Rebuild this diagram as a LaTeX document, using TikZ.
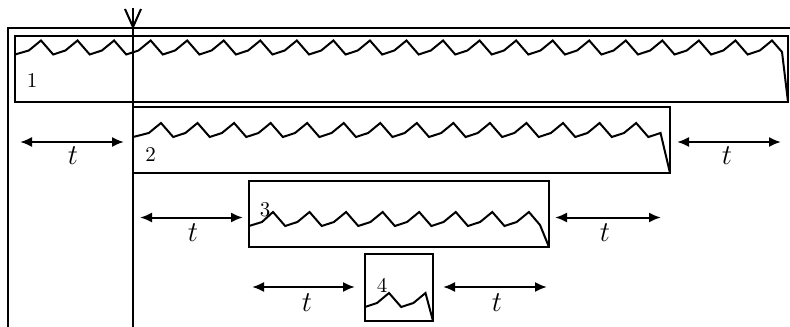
\documentclass[tikz,border=0pt]{standalone}
\usetikzlibrary{arrows.meta}
\begin{document}
\begin{tikzpicture}[x=0.5pt,y=-0.5pt,
  every path/.style={line width=1pt, line join=miter},
  frame/.style={line width=1pt},
  boxline/.style={line width=1pt},
  saw/.style={line width=1pt, line join=miter},
  dimarrow/.style={line width=1pt, {Latex[length=6pt,width=5pt]}-{Latex[length=6pt,width=5pt]}},
  lab/.style={font=\fontsize{10.5}{12}\selectfont, inner sep=0pt},
  tlab/.style={font=\fontsize{14.4}{16}\selectfont, inner sep=0pt}]
\useasboundingbox (0,0) rectangle (790,326);
% outer frame
\coordinate (fbl) at (8,328);
\coordinate (ftl) at (8,28);
\coordinate (ftr) at (792,28);
\draw[frame] (fbl) -- (ftl) -- (ftr);
% vertical axis with V mark
\coordinate (vtop) at (133,8);
\coordinate (vbot) at (133,328);
\coordinate (vl) at (125,9);
\coordinate (vapex) at (133,27);
\coordinate (vr) at (141,9);
\draw[frame] (vtop) -- (vbot);
\draw[frame] (vl) -- (vapex) -- (vr);
% boxes
\coordinate (b1a) at (15,36);  \coordinate (b1b) at (788,102);
\coordinate (b2a) at (133,107); \coordinate (b2b) at (670,173);
\coordinate (b3a) at (249,181); \coordinate (b3b) at (549,247);
\coordinate (b4a) at (365,254); \coordinate (b4b) at (433,321);
\draw[boxline] (b1a) rectangle (b1b);
\draw[boxline] (b2a) rectangle (b2b);
\draw[boxline] (b3a) rectangle (b3b);
\draw[boxline] (b4a) rectangle (b4b);
% saw profiles
\draw[saw] (15,54.5) -- (28.8,50.5)
  foreach \k in {0,...,19} { -- ({41+\k*36.55},40.5) -- ({53.18+\k*36.55},54.5) -- ({65.37+\k*36.55},50.5) }
  -- (772,40.5) -- (782,52) -- (b1b);
\draw[saw] (133,137) -- (148.8,133)
  foreach \k in {0,...,13} { -- ({161+\k*36.55},123) -- ({173.18+\k*36.55},137) -- ({185.37+\k*36.55},133) }
  -- (b2b);
\draw[saw] (249,226) -- (262,222)
  foreach \k in {0,...,6} { -- ({273+\k*36.55},212) -- ({285.18+\k*36.55},226) -- ({297.37+\k*36.55},222) }
  -- (528.9,212) -- (540,225) -- (b3b);
\draw[saw] (365,307) -- (377,303) -- (389,293) -- (401.2,307) -- (413.4,303) -- (425.5,293) -- (b4b);
% labels
\node[lab] (n1) at (32,80.5) {1};
\node[lab] (n2) at (150.5,154.5) {2};
\node[lab] (n3) at (265,210) {3};
\node[lab] (n4) at (382,285) {4};
% dimension arrows
\coordinate (a1l) at (20,142);  \coordinate (a1r) at (124,142);
\coordinate (a2l) at (677,142); \coordinate (a2r) at (781,142);
\coordinate (a3l) at (140,217.5); \coordinate (a3r) at (243,217.5);
\coordinate (a4l) at (555,217.5); \coordinate (a4r) at (661,217.5);
\coordinate (a5l) at (252,287); \coordinate (a5r) at (355,287);
\coordinate (a6l) at (443,287); \coordinate (a6r) at (547,287);
\draw[dimarrow] (a1l) -- (a1r);
\draw[dimarrow] (a2l) -- (a2r);
\draw[dimarrow] (a3l) -- (a3r);
\draw[dimarrow] (a4l) -- (a4r);
\draw[dimarrow] (a5l) -- (a5r);
\draw[dimarrow] (a6l) -- (a6r);
\node[tlab] (t1) at (73,156) {$t$};
\node[tlab] (t2) at (727,156) {$t$};
\node[tlab] (t3) at (193,233) {$t$};
\node[tlab] (t4) at (605,233) {$t$};
\node[tlab] (t5) at (307,303) {$t$};
\node[tlab] (t6) at (497,303) {$t$};
\end{tikzpicture}
\end{document}
